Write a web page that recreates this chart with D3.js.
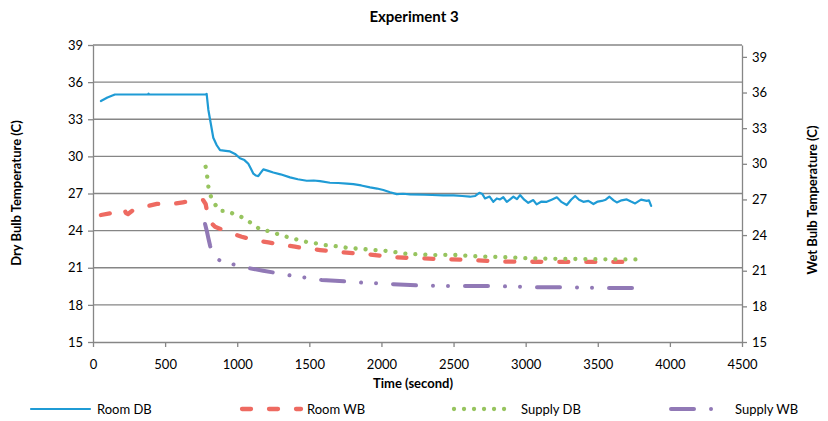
<!DOCTYPE html>
<html>
<head>
<meta charset="utf-8">
<script src="https://cdn.jsdelivr.net/npm/d3@7"></script>
<style>
  body { margin: 0; background: #fff; }
  svg { font-family: Lato, "Open Sans", sans-serif; }
</style>
</head>
<body>
<div id="chart"></div>
<script>
// Room DB (left axis)
var roomDbTime = [55, 100, 152, 381, 385, 390, 781, 788, 800, 816, 834, 858, 881, 920, 950, 985, 1019, 1050, 1077, 1095, 1112, 1130, 1146, 1165, 1181, 1210, 1250, 1300, 1366, 1420, 1482, 1530, 1574, 1643, 1700, 1760, 1805, 1860, 1921, 1970, 2013, 2060, 2106, 2150, 2198, 2300, 2350, 2429, 2500, 2560, 2614, 2650, 2679, 2700, 2718, 2750, 2776, 2800, 2822, 2845, 2869, 2890, 2915, 2940, 2961, 2990, 3018, 3053, 3076, 3110, 3146, 3180, 3216, 3250, 3285, 3315, 3343, 3370, 3400, 3435, 3470, 3500, 3528, 3555, 3581, 3610, 3632, 3665, 3701, 3730, 3759, 3800, 3840, 3855, 3870];
var roomDb = [34.47, 34.75, 35.0, 35.0, 35.07, 35.0, 35.0, 35.05, 33.75, 32.7, 31.5, 30.9, 30.5, 30.45, 30.4, 30.2, 29.85, 29.7, 29.4, 29.0, 28.6, 28.45, 28.4, 28.7, 28.95, 28.85, 28.7, 28.55, 28.3, 28.15, 28.03, 28.05, 28.0, 27.87, 27.85, 27.8, 27.76, 27.65, 27.5, 27.4, 27.28, 27.1, 26.95, 26.98, 26.93, 26.9, 26.88, 26.85, 26.85, 26.8, 26.74, 26.8, 27.06, 26.95, 26.6, 26.75, 26.33, 26.6, 26.52, 26.7, 26.33, 26.5, 26.74, 26.55, 26.87, 26.5, 26.25, 26.47, 26.12, 26.35, 26.33, 26.5, 26.69, 26.3, 26.07, 26.5, 26.8, 26.5, 26.33, 26.4, 26.15, 26.35, 26.4, 26.5, 26.74, 26.45, 26.28, 26.45, 26.52, 26.35, 26.2, 26.5, 26.4, 26.45, 26.0];

// Room WB (right axis)
var roomWbTime = [55, 139, 215, 229, 243, 270, 360, 443, 547, 624, 721, 763, 781, 800, 823, 846, 973, 1031, 1146, 1216, 1320, 1400, 1505, 1574, 1736, 1909, 2094, 2279, 2452, 2637, 2822, 2995, 3200, 3400, 3600, 3790];
var roomWb = [25.69, 25.88, 26.2, 25.86, 25.77, 26.03, 26.39, 26.62, 26.62, 26.76, 26.95, 26.95, 26.62, 25.41, 24.99, 24.7, 24.09, 23.86, 23.5, 23.39, 23.17, 23.02, 22.83, 22.74, 22.55, 22.38, 22.13, 22.04, 21.96, 21.9, 21.76, 21.76, 21.74, 21.74, 21.74, 21.74];

// Supply DB (left axis)
var supplyDbTime = [781, 792, 800, 818, 841, 881, 922, 985, 1042, 1100, 1158, 1216, 1281, 1343, 1408, 1477, 1546, 1609, 1678, 1747, 1817, 1886, 1955, 2025, 2080, 2150, 2217, 2286, 2355, 2487, 2626, 2753, 2885, 3000, 3200, 3400, 3600, 3827];
var supplyDb = [29.16, 28.35, 27.55, 26.74, 26.2, 25.58, 25.6, 25.31, 25.04, 24.59, 24.1, 23.96, 23.72, 23.5, 23.3, 23.1, 22.97, 22.83, 22.75, 22.64, 22.56, 22.5, 22.43, 22.37, 22.29, 22.16, 22.1, 22.08, 22.02, 22.05, 21.94, 21.89, 21.84, 21.78, 21.72, 21.7, 21.68, 21.67];

// Supply WB (right axis)
var supplyWbTime = [777, 790, 800, 812, 823, 850, 893, 992, 1089, 1180, 1285, 1378, 1482, 1586, 1782, 1868, 1970, 2082, 2290, 2450, 2591, 2788, 3088, 3296, 3600, 3793];
var supplyWb = [24.93, 24.3, 23.73, 23.1, 22.6, 22.1, 21.76, 21.48, 21.2, 21.0, 20.78, 20.58, 20.41, 20.22, 20.08, 19.99, 19.95, 19.86, 19.74, 19.72, 19.71, 19.71, 19.6, 19.6, 19.55, 19.55];

var xTicks = [0, 500, 1000, 1500, 2000, 2500, 3000, 3500, 4000, 4500];
var yTicks = [15, 18, 21, 24, 27, 30, 33, 36, 39];

var series = [
  { name: "Room DB", t: roomDbTime, v: roomDb, axis: "left", color: "#1f9bd5", width: 2.2, dash: null },
  { name: "Room WB", t: roomWbTime, v: roomWb, axis: "right", color: "#ee6a61", width: 4.3, dash: "9,18" },
  { name: "Supply DB", t: supplyDbTime, v: supplyDb, axis: "left", color: "#97c45f", width: 4.3, dash: "0.01,10" },
  { name: "Supply WB", t: supplyWbTime, v: supplyWb, axis: "right", color: "#9179b6", width: 4, dash: "23,17,0.01,15,0.01,17" }
];

var W = 828, H = 421;
var plotLeft = 93, plotRight = 742, plotTop = 45, plotBottom = 342;
var axisColor = "#868686";

var svg = d3.select("#chart").append("svg").attr("width", W).attr("height", H);

var x = d3.scaleLinear().domain([0, 4500]).range([plotLeft, plotRight]);
var yL = d3.scaleLinear().domain([15, 39]).range([plotBottom, plotTop]);
var yR = d3.scaleLinear().domain([15, 40]).range([plotBottom, plotTop]);

// gridlines
svg.append("g").selectAll("line")
  .data(yTicks.slice(1))
  .join("line")
  .attr("x1", plotLeft).attr("x2", plotRight)
  .attr("y1", function(d) { return yL(d); }).attr("y2", function(d) { return yL(d); })
  .attr("stroke", axisColor).attr("stroke-width", 1.3);

// axes
var gx = svg.append("g").attr("transform", "translate(0," + plotBottom + ")")
  .call(d3.axisBottom(x).tickValues(xTicks).tickFormat(d3.format("d")).tickSize(5).tickPadding(13).tickSizeOuter(0));
var gl = svg.append("g").attr("transform", "translate(" + plotLeft + ",0)")
  .call(d3.axisLeft(yL).tickValues(yTicks).tickSize(5).tickPadding(5).tickSizeOuter(0));
var gr = svg.append("g").attr("transform", "translate(" + plotRight + ",0)")
  .call(d3.axisRight(yR).tickValues(yTicks).tickSize(5).tickPadding(5).tickSizeOuter(0));

[gx, gl, gr].forEach(function(g) {
  g.select(".domain").attr("stroke", axisColor).attr("stroke-width", 1.3);
  g.selectAll(".tick line").attr("stroke", axisColor).attr("stroke-width", 1.3);
  g.selectAll(".tick text").attr("fill", "#000").style("font-size", "13px")
    .style("font-family", "Lato, 'Open Sans', sans-serif");
});

// series lines
series.forEach(function(s) {
  var yS = s.axis === "left" ? yL : yR;
  var pts = s.t.map(function(t, i) { return [t, s.v[i]]; });
  var line = d3.line()
    .x(function(d) { return x(d[0]); })
    .y(function(d) { return yS(d[1]); });
  var p = svg.append("path")
    .datum(pts)
    .attr("fill", "none")
    .attr("stroke", s.color)
    .attr("stroke-width", s.width)
    .attr("stroke-linejoin", "round")
    .attr("stroke-linecap", "round")
    .attr("d", line);
  if (s.dash) p.attr("stroke-dasharray", s.dash);
});

// titles
svg.append("text")
  .attr("x", 414).attr("y", 22)
  .attr("text-anchor", "middle")
  .style("font-size", "15px").style("font-weight", "bold")
  .text("Experiment 3");

svg.append("text")
  .attr("x", 413).attr("y", 388)
  .attr("text-anchor", "middle")
  .style("font-size", "13px").style("font-weight", "bold")
  .text("Time (second)");

svg.append("text")
  .attr("transform", "translate(21,193) rotate(-90)")
  .attr("text-anchor", "middle")
  .style("font-size", "13px").style("font-weight", "bold")
  .text("Dry Bulb Temperature (C)");

svg.append("text")
  .attr("transform", "translate(817,200) rotate(-90)")
  .attr("text-anchor", "middle")
  .style("font-size", "13px").style("font-weight", "bold")
  .text("Wet Bulb Temperature (C)");

// legend
var legendPos = [
  { x1: 31, x2: 90, tx: 97 },
  { x1: 242, x2: 301, tx: 307 },
  { x1: 454, x2: 508, tx: 521 },
  { x1: 671, x2: 714, tx: 735 }
];
var ly = 409;
series.forEach(function(s, i) {
  var lp = legendPos[i];
  var l = svg.append("line")
    .attr("x1", lp.x1).attr("x2", lp.x2)
    .attr("y1", ly).attr("y2", ly)
    .attr("stroke", s.color)
    .attr("stroke-width", s.width)
    .attr("stroke-linecap", "round");
  if (s.dash) l.attr("stroke-dasharray", s.dash);
  svg.append("text")
    .attr("x", lp.tx).attr("y", ly + 4.5)
    .style("font-size", "13px")
    .text(s.name);
});
</script>
</body>
</html>
